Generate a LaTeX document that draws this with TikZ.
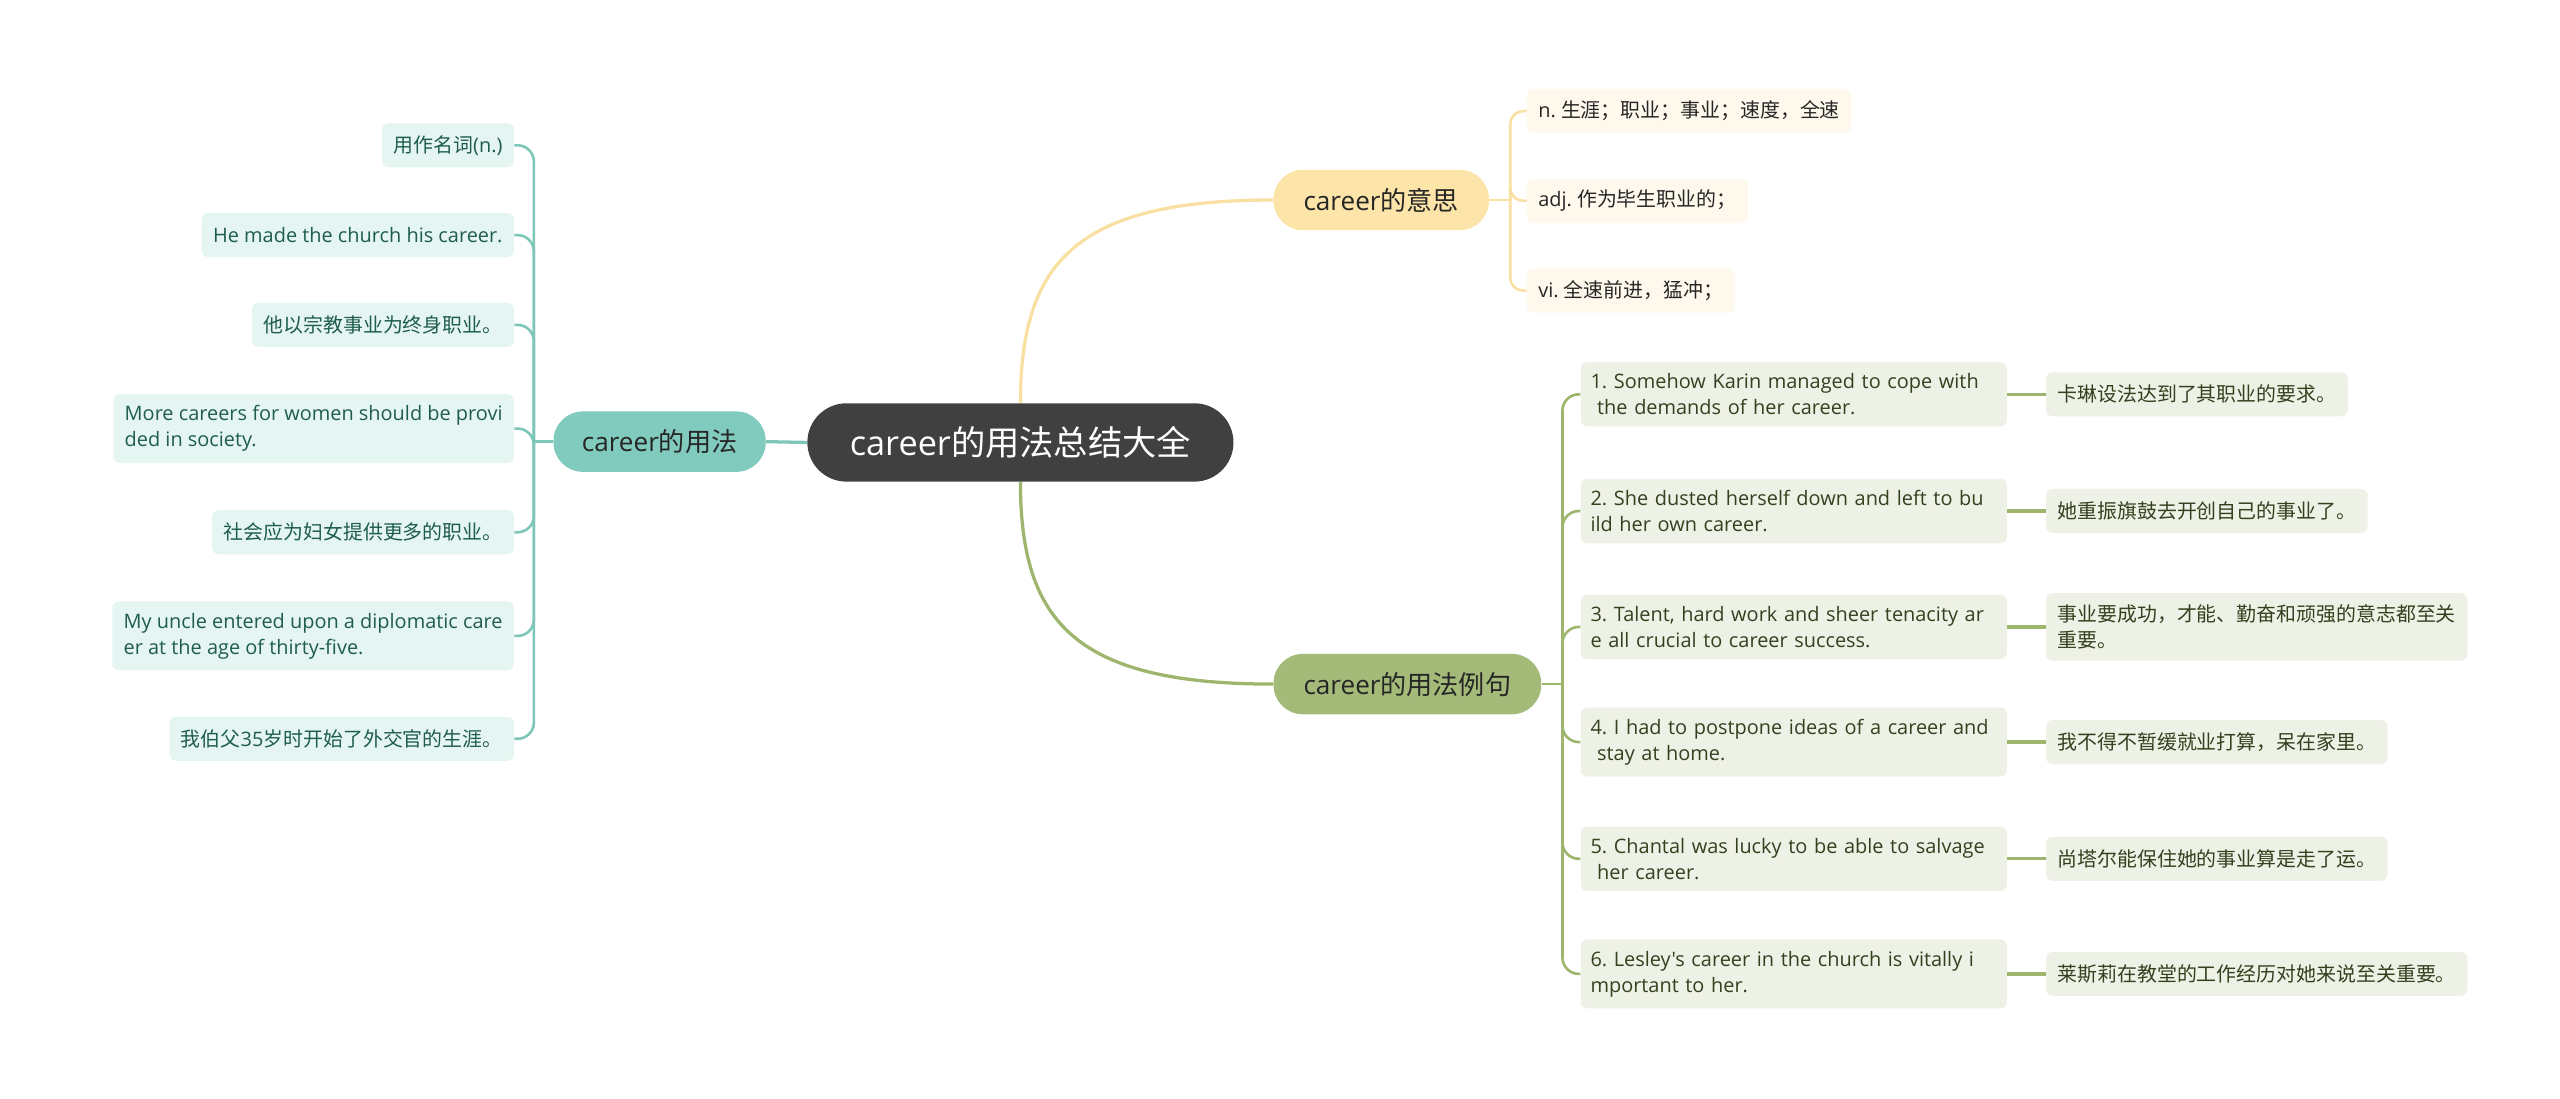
\documentclass[tikz,border=0pt]{standalone}
\usepackage{fontspec}
\setmainfont{Open Sans}[Ligatures=TeXOff]
\newfontfamily\cjkfont{Noto Sans CJK SC}
\chardef\cjkcls=10
\newcount\cjkc
\def\setcjkrange#1#2{\cjkc=#1 \loop \XeTeXcharclass\cjkc=\cjkcls \advance\cjkc by 1 \ifnum\cjkc<#2 \repeat}
\setcjkrange{"3000}{"3040}
\setcjkrange{"4E00}{"A000}
\setcjkrange{"FF00}{"FFF0}
\XeTeXinterchartoks 0 \cjkcls = {\cjkfont}
\XeTeXinterchartoks 4095 \cjkcls = {\cjkfont}
\XeTeXinterchartoks \cjkcls 0 = {\rmfamily}
\XeTeXinterchartoks \cjkcls 4095 = {\rmfamily}
\XeTeXinterchartokenstate=1
\frenchspacing
\definecolor{rootgray}{HTML}{404040}
\definecolor{usefill}{HTML}{80CBBD}
\definecolor{useleaf}{HTML}{E5F5F1}
\definecolor{useline}{HTML}{7EC7B8}
\definecolor{usetext}{HTML}{1F5C50}
\definecolor{meanfill}{HTML}{FDE4A8}
\definecolor{meanleaf}{HTML}{FEF9EC}
\definecolor{meanline}{HTML}{F9E0A2}
\definecolor{expfill}{HTML}{A4BA78}
\definecolor{expleaf}{HTML}{EEF1E5}
\definecolor{expline}{HTML}{9DB56C}
\definecolor{exptext}{HTML}{35401F}
\tikzset{
  rootnode/.style={fill=rootgray, text=white, rounded corners=24pt, minimum width=261pt, minimum height=48pt, font=\fontsize{21}{25}\selectfont},
  branchnode/.style={rounded corners=18pt, minimum height=37pt, inner xsep=0pt, font=\fontsize{16}{20}\selectfont},
  leafnode/.style={rounded corners=4pt, inner xsep=7pt, inner ysep=7pt, minimum height=27pt, align=left, font=\fontsize{12.2}{16}\selectfont},
  wire/.style={line width=1.6pt},
}
\begin{document}
\begin{tikzpicture}[x=1pt, y=-1pt]
\useasboundingbox (0,0) rectangle (1568,673);
\node[rootnode] (root) at (625,271) {career的用法总结大全};
\node[branchnode, fill=usefill, text=black!85, minimum width=130pt] (use) at (404,270.5) {career的用法};
\node[branchnode, fill=meanfill, text=black!85, minimum width=132pt] (mean) at (846,122.5) {career的意思};
\node[branchnode, fill=expfill, text=black!85, minimum width=164pt] (exm) at (862,419) {career的用法例句};
\coordinate (ju) at (327,270.5);
\coordinate (jm) at (925,122.5);
\coordinate (je) at (957,419);
\draw[wire, useline, line width=2pt] (root.west) -- (use.east);
\draw[wire, meanline, line width=2pt] (root.north) .. controls +(0,-87) and +(-120,0) .. (mean.west);
\draw[wire, expline, line width=2pt] (root.south) .. controls +(0,87) and +(-120,0) .. (exm.west);
\draw[wire, useline] (use.west) -- (ju);
\draw[wire, meanline] (mean.east) -- (jm);
\draw[wire, expline] (exm.east) -- (je);
\foreach \i / \y / \txt in {1/89/{用作名词(n.)}, 2/144/{He made the church his career.}, 3/199/{他以宗教事业为终身职业。}, 4/262.5/{More careers for women should be provi\\ded in society.}, 5/326/{社会应为妇女提供更多的职业。}, 6/389.5/{My uncle entered upon a diplomatic care\\er at the age of thirty-five.}, 7/452.5/{我伯父35岁时开始了外交官的生涯。}} {
  \node[leafnode, fill=useleaf, text=usetext, anchor=east] (u\i) at (315,\y) {\txt};
  \draw[wire, useline, rounded corners=10pt] (ju) |- (u\i.east);
}
\foreach \i / \y / \txt in {1/68/{n. 生涯；职业；事业；速度，全速}, 2/123/{adj. 作为毕生职业的；}, 3/178/{vi. 全速前进，猛冲；}} {
  \node[leafnode, fill=meanleaf, text=black!85, anchor=west] (m\i) at (935,\y) {\txt};
  \draw[wire, meanline, rounded corners=8pt] (jm) |- (m\i.west);
}
\foreach \i / \y / \txt / \zh in {1/241.5/{1. Somehow Karin managed to cope with\\\ the demands of her career.}/{卡琳设法达到了其职业的要求。}, 2/313/{2. She dusted herself down and left to bu\\ild her own career.}/{她重振旗鼓去开创自己的事业了。}, 3/384/{3. Talent, hard work and sheer tenacity ar\\e all crucial to career success.}/{事业要成功，才能、勤奋和顽强的意志都至关\\重要。}, 4/454.5/{4. I had to postpone ideas of a career and\\\ stay at home.}/{我不得不暂缓就业打算，呆在家里。}, 5/526/{5. Chantal was lucky to be able to salvage\\\ her career.}/{尚塔尔能保住她的事业算是走了运。}, 6/596.5/{6. Lesley's career in the church is vitally i\\mportant to her.}/{莱斯莉在教堂的工作经历对她来说至关重要。}} {
  \node[leafnode, fill=expleaf, text=exptext, anchor=west, inner xsep=6pt, text width=249pt] (s\i) at (968,\y) {\txt};
  \node[leafnode, fill=expleaf, text=exptext, anchor=west] (t\i) at (1253,\y) {\zh};
  \draw[wire, expline, rounded corners=10pt] (je) |- (s\i.west);
  \draw[wire, expline, line width=2pt] (s\i.east) -- (t\i.west);
}
\end{tikzpicture}
\end{document}
